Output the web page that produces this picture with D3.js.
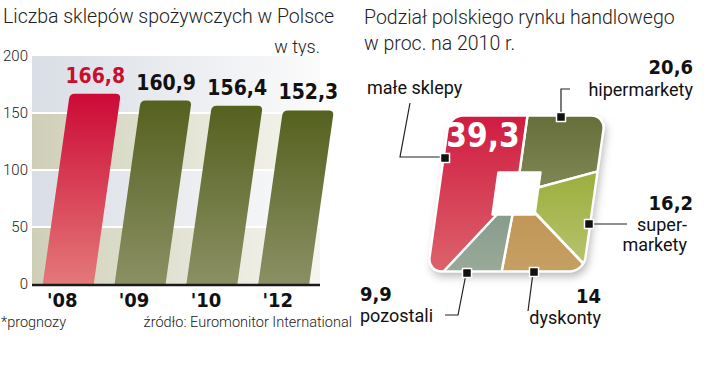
<!DOCTYPE html>
<html>
<head>
<meta charset="utf-8">
<script src="https://cdn.jsdelivr.net/npm/d3@7"></script>
<style>
  body { margin: 0; background: #fff; }
  svg { display: block; }
  .thin { font-family: Roboto, "Open Sans", sans-serif; font-weight: 300; fill: #222; }
  .reg { font-family: Roboto, "Open Sans", sans-serif; font-weight: 400; fill: #111; }
  .num { font-family: "DejaVu Sans", sans-serif; font-stretch: condensed; font-weight: bold; fill: #111; }
</style>
</head>
<body>
<div id="chart"></div>
<script>
// left chart: number of grocery shops (thousands)
var years = ["'08", "'09", "'10", "'12"];
var shops = [166.8, 160.9, 156.4, 152.3];
var yTicks = [0, 50, 100, 150, 200];

// right chart: market share 2010, clockwise from the top
var segNames = ["hipermarkety", "supermarkety", "dyskonty", "pozostali", "małe sklepy"];
var segValues = [20.6, 16.2, 14, 9.9, 39.3];

var width = 720, height = 389;

var svg = d3.select("#chart").append("svg")
    .attr("width", width)
    .attr("height", height);

var defs = svg.append("defs");

function vGrad(id, top, bottom) {
    var g = defs.append("linearGradient").attr("id", id)
        .attr("x1", 0).attr("y1", 0).attr("x2", 0).attr("y2", 1);
    g.append("stop").attr("offset", "0%").attr("stop-color", top);
    g.append("stop").attr("offset", "100%").attr("stop-color", bottom);
}
function hGrad(id, left, right) {
    var g = defs.append("linearGradient").attr("id", id)
        .attr("x1", 0).attr("y1", 0).attr("x2", 1).attr("y2", 0);
    g.append("stop").attr("offset", "0%").attr("stop-color", left);
    g.append("stop").attr("offset", "100%").attr("stop-color", right);
}
vGrad("gRed", "#cc0a36", "#e47878");
vGrad("gOlive", "#55611f", "#8b9064");
hGrad("gBandGray", "#d9dde5", "#fbfbfb");
hGrad("gBandBeige", "#cfcfb8", "#f6f6f0");
vGrad("gHiper", "#58622a", "#7f8756");
vGrad("gSuper", "#98ac38", "#c2ca7e");
vGrad("gDysk", "#c29656", "#c7a66c");
vGrad("gPoz", "#889c8a", "#a6b3a4");
vGrad("gMale", "#cc0a36", "#e07476");

var shadow = defs.append("filter").attr("id", "shadow")
    .attr("x", "-20%").attr("y", "-20%").attr("width", "140%").attr("height", "140%");
shadow.append("feDropShadow").attr("dx", 3).attr("dy", 5)
    .attr("stdDeviation", 4).attr("flood-color", "#000").attr("flood-opacity", 0.28);

// ---------------- left chart ----------------
var x = d3.scaleBand().domain(years).range([32, 320]).paddingInner(0.29).paddingOuter(0.15);
var y = d3.scaleLinear().domain([0, 200]).range([284, 56]);
var slant = 0.142; // bars lean to the right

var left = svg.append("g");

left.append("text").attr("class", "thin").attr("x", 3).attr("y", 23)
    .style("font-size", "19.5px").text("Liczba sklepów spożywczych w Polsce");
left.append("text").attr("class", "thin").attr("x", 320).attr("y", 53)
    .attr("text-anchor", "end").style("font-size", "18px").text("w tys.");

// background bands, alternating grey / beige
var bands = d3.pairs(yTicks);
left.selectAll(".band").data(bands).enter().append("rect")
    .attr("class", "band")
    .attr("x", 32).attr("width", 288)
    .attr("y", function(d) { return y(d[1]); })
    .attr("height", function(d) { return y(d[0]) - y(d[1]); })
    .attr("fill", function(d, i) { return i % 2 == 0 ? "url(#gBandBeige)" : "url(#gBandGray)"; });

left.selectAll(".grid").data(yTicks.slice(1, -1)).enter().append("line")
    .attr("x1", 32).attr("x2", 320)
    .attr("y1", function(d) { return y(d); }).attr("y2", function(d) { return y(d); })
    .attr("stroke", "#fff").attr("stroke-width", 2);

var yAxis = d3.axisLeft(y).tickValues(yTicks).tickSize(0).tickPadding(0);
left.append("g").attr("transform", "translate(28,0)").call(yAxis)
    .call(function(g) { g.select(".domain").remove(); })
    .selectAll("text")
    .attr("class", "thin")
    .style("font-size", "15px")
    .attr("fill", "#333");

function barPath(i) {
    var x0 = x(years[i]), w = x.bandwidth(), y0 = y(0), yt = y(shops[i]);
    var s = (y0 - yt) * slant, r = 5;
    return "M" + x0 + "," + y0 +
        "L" + (x0 + s - r * slant) + "," + (yt + r) +
        "Q" + (x0 + s) + "," + yt + " " + (x0 + s + r) + "," + yt +
        "L" + (x0 + w + s - r) + "," + yt +
        "Q" + (x0 + w + s) + "," + yt + " " + (x0 + w + s - r * slant) + "," + (yt + r) +
        "L" + (x0 + w) + "," + y0 + "Z";
}

left.selectAll(".bar").data(shops).enter().append("path")
    .attr("class", "bar")
    .attr("d", function(d, i) { return barPath(i); })
    .attr("fill", function(d, i) { return i == 0 ? "url(#gRed)" : "url(#gOlive)"; });

left.selectAll(".val").data(shops).enter().append("text")
    .attr("class", "num")
    .attr("text-anchor", "middle")
    .attr("x", function(d, i) { return x(years[i]) + x.bandwidth() / 2 + (y(0) - y(d)) * slant; })
    .attr("y", function(d) { return y(d) - 11; })
    .style("font-size", "21px")
    .style("fill", function(d, i) { return i == 0 ? "#c8102e" : "#111"; })
    .text(function(d) { return d3.format(".1f")(d).replace(".", ","); });

left.append("line").attr("x1", 32).attr("x2", 320)
    .attr("y1", y(0) + 1).attr("y2", y(0) + 1)
    .attr("stroke", "#1a1a1a").attr("stroke-width", 2.5);

left.selectAll(".year").data(years).enter().append("text")
    .attr("class", "num")
    .attr("text-anchor", "middle")
    .attr("x", function(d) { return x(d) + x.bandwidth() / 2 - 6; })
    .attr("y", 307)
    .style("font-size", "20px")
    .text(function(d) { return d; });

left.append("text").attr("class", "thin").attr("x", 1).attr("y", 327)
    .style("font-size", "14.5px").text("*prognozy");
left.append("text").attr("class", "thin").attr("x", 352).attr("y", 327)
    .attr("text-anchor", "end").style("font-size", "14.5px").text("źródło: Euromonitor International");

// ---------------- right chart ----------------
var right = svg.append("g");
right.append("text").attr("class", "thin").attr("x", 364).attr("y", 24)
    .style("font-size", "19.5px").text("Podział polskiego rynku handlowego");
right.append("text").attr("class", "thin").attr("x", 364).attr("y", 50)
    .style("font-size", "19.5px").text("w proc. na 2010 r.");

// square "pie": slices projected onto a rounded square, then skewed
var half = 78, hole = 21, corner = 14;
var cx = 516.5, cy = 193.5;
var pie = d3.pie().sort(null).value(function(d) { return d; });
var arcs = pie(segValues);

function onSquare(a, h) {
    var sx = Math.sin(a), sy = -Math.cos(a);
    var t = h / Math.max(Math.abs(sx), Math.abs(sy));
    return [sx * t, sy * t];
}
function anglesBetween(a0, a1) {
    var pts = [a0];
    for (var k = 1; k <= 4; k++) {
        var ca = (2 * k - 1) * Math.PI / 4; // corners at 45, 135, 225, 315 deg
        if (ca > a0 && ca < a1) pts.push(ca);
    }
    pts.push(a1);
    return pts;
}
function slicePath(d) {
    var outer = anglesBetween(d.startAngle, d.endAngle).map(function(a) { return onSquare(a, half * 1.5); });
    var inner = anglesBetween(d.startAngle, d.endAngle).reverse().map(function(a) { return onSquare(a, hole); });
    return "M" + outer.concat(inner).map(function(p) { return p.join(","); }).join("L") + "Z";
}

defs.append("clipPath").attr("id", "sqClip").append("rect")
    .attr("x", -half).attr("y", -half).attr("width", half * 2).attr("height", half * 2)
    .attr("rx", corner);

var fills = ["url(#gHiper)", "url(#gSuper)", "url(#gDysk)", "url(#gPoz)", "url(#gMale)"];

var pieG = right.append("g")
    .attr("transform", "translate(" + cx + "," + cy + ") skewX(-8)");

pieG.append("rect")
    .attr("x", -half).attr("y", -half).attr("width", half * 2).attr("height", half * 2)
    .attr("rx", corner).attr("fill", "#fff").attr("filter", "url(#shadow)");

var slices = pieG.append("g").attr("clip-path", "url(#sqClip)");
slices.selectAll(".slice").data(arcs).enter().append("path")
    .attr("class", "slice")
    .attr("d", slicePath)
    .attr("fill", function(d, i) { return fills[i]; })
    .attr("stroke", "#fff").attr("stroke-width", 2.5).attr("stroke-linejoin", "round");

pieG.append("rect")
    .attr("x", -half).attr("y", -half).attr("width", half * 2).attr("height", half * 2)
    .attr("rx", corner).attr("fill", "none").attr("stroke", "#fff").attr("stroke-width", 2.5);

function fmt(v) { return String(v).replace(".", ","); }

// annotations: value, name lines, leader line and marker
var notes = [
    { i: 0, vx: 693, vy: 74, anchor: "end", lines: ["hipermarkety"], lx: 693, ly: 96,
      leader: [[570, 89], [561, 89], [561, 116]], marker: [561, 117] },
    { i: 1, vx: 693, vy: 210, anchor: "end", lines: ["super-", "markety"], lx: 687, ly: 231,
      leader: [[627, 224], [590, 224]], marker: [589, 224] },
    { i: 2, vx: 601, vy: 303, anchor: "end", lines: ["dyskonty"], lx: 601, ly: 324,
      leader: [[528, 311], [533, 273]], marker: [534, 272] },
    { i: 3, vx: 360, vy: 301, anchor: "start", lines: ["pozostali"], lx: 360, ly: 322,
      leader: [[445, 315], [458, 315], [466, 274]], marker: [467, 273] },
    { i: 4, vx: null, lines: ["małe sklepy"], lx: 367, ly: 94, anchor: "start",
      leader: [[410, 103], [400, 157], [444, 157]], marker: [445, 158] }
];

var ann = right.selectAll(".note").data(notes).enter().append("g").attr("class", "note");

ann.append("path")
    .attr("d", function(d) { return "M" + d.leader.map(function(p) { return p.join(","); }).join("L"); })
    .attr("fill", "none").attr("stroke", "#222").attr("stroke-width", 1.2);

ann.append("rect")
    .attr("x", function(d) { return d.marker[0] - 4.5; })
    .attr("y", function(d) { return d.marker[1] - 4.5; })
    .attr("width", 9).attr("height", 9)
    .attr("fill", "#111").attr("stroke", "#fff").attr("stroke-width", 1.5);

ann.filter(function(d) { return d.vx != null; }).append("text")
    .attr("class", "num")
    .attr("x", function(d) { return d.vx; }).attr("y", function(d) { return d.vy; })
    .attr("text-anchor", function(d) { return d.anchor; })
    .style("font-size", "20px")
    .text(function(d) { return fmt(segValues[d.i]); });

ann.each(function(d) {
    var t = d3.select(this).append("text").attr("class", "reg")
        .attr("text-anchor", d.anchor).style("font-size", "18px");
    d.lines.forEach(function(l, k) {
        t.append("tspan").attr("x", d.lx).attr("y", d.ly + k * 20).text(l);
    });
});

// big value inside the red slice
right.append("text").attr("class", "num")
    .attr("x", 483).attr("y", 147).attr("text-anchor", "middle")
    .style("font-size", "33px").style("fill", "#fff")
    .text(fmt(segValues[4]));
</script>
</body>
</html>
